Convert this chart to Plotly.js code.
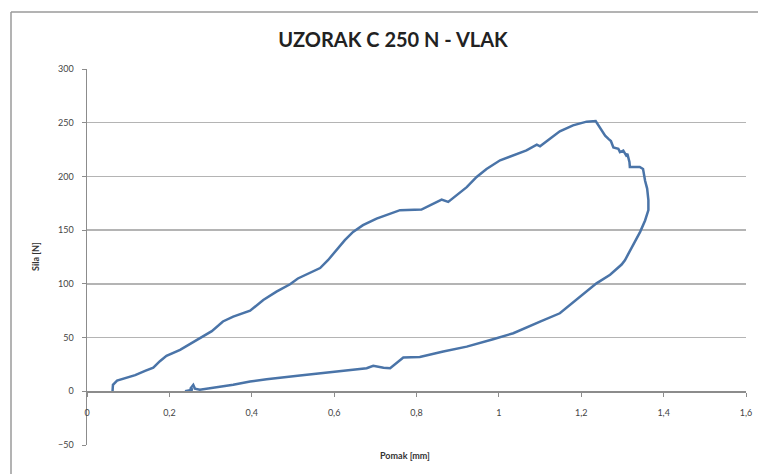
<!DOCTYPE html>
<html>
<head>
<meta charset="utf-8">
<script src="https://cdn.plot.ly/plotly-3.0.1.min.js"></script>
<style>
  html, body { margin: 0; padding: 0; background: #fff; overflow: hidden; }
  #chart { width: 758px; height: 474px; }
</style>
</head>
<body>
<div id="chart"></div>
<script>
// Pomak [mm] vs Sila [N]
const pomak = [
  0.062, 0.063, 0.073, 0.097, 0.117, 0.141, 0.161, 0.177, 0.193, 0.226,
  0.250, 0.274, 0.303, 0.330, 0.355, 0.396, 0.428, 0.460, 0.493, 0.512,
  0.541, 0.566, 0.585, 0.606, 0.626, 0.646, 0.670, 0.703, 0.736, 0.760,
  0.812, 0.840, 0.861, 0.877, 0.897, 0.922, 0.946, 0.970, 1.003, 1.035,
  1.067, 1.092, 1.100, 1.124, 1.148, 1.180, 1.213, 1.235, 1.250, 1.258,
  1.266, 1.272, 1.278, 1.290, 1.294, 1.302, 1.309, 1.312, 1.317, 1.318,
  1.342, 1.350, 1.355, 1.360, 1.363, 1.363, 1.355, 1.343, 1.330, 1.318,
  1.306, 1.298, 1.270, 1.237, 1.197, 1.148, 1.100, 1.035, 0.986, 0.922,
  0.865, 0.808, 0.768, 0.752, 0.736, 0.720, 0.695, 0.679, 0.598, 0.517,
  0.436, 0.396, 0.355, 0.315, 0.274, 0.262, 0.258, 0.252, 0.256, 0.238
];
const sila = [
  0, 6, 10, 12.5, 15, 19, 22, 28, 33, 38.5,
  44, 49.7, 56, 65, 69.5, 75, 85, 92.8, 99.6, 105,
  110, 114.7, 122, 131.4, 140.7, 148.4, 154.6, 160.8, 165.5, 168.6,
  169.2, 174.8, 178.5, 176.3, 182.5, 190, 199.5, 207, 215, 219.7,
  224.3, 229.6, 228, 235, 242, 247.5, 251, 251.5, 242, 238,
  235, 233, 227, 225.8, 222.7, 224, 219.6, 221, 213.5, 208.8,
  208.8, 207, 196, 188.7, 178, 168.6, 159, 148.4, 139, 130,
  122, 118, 108.5, 100.5, 88, 72.6, 64.8, 54, 48.5, 41.6,
  37, 32, 31.4, 26, 21.5, 22, 23.7, 21.5, 17.8, 14.7,
  11.3, 9.1, 6, 3.9, 1.4, 2.5, 6, 3, 1.5, 0
];

const xTicks = [0, 0.2, 0.4, 0.6, 0.8, 1, 1.2, 1.4, 1.6];
const yTicks = [-50, 0, 50, 100, 150, 200, 250, 300];

const font = "Lato, 'Open Sans', sans-serif";
const gray = "#8c8c8c";

const trace = {
  x: pomak,
  y: sila,
  mode: "lines",
  type: "scatter",
  line: { color: "#4a74a8", width: 2.5 },
  hoverinfo: "skip"
};

// paper coords of the chart frame (top and left edges only show in the picture)
const frameLeft = (11 - 87) / 659;
const frameRight = (758 - 87) / 659;
const frameTop = (445 - 12) / 376;
const frameBottom = (445 - 474) / 376;

const layout = {
  width: 758,
  height: 474,
  margin: { l: 87, r: 12, t: 69, b: 29 },
  paper_bgcolor: "#fff",
  plot_bgcolor: "#fff",
  showlegend: false,
  separators: ",.",
  font: { family: font, size: 9, color: "#444" },
  title: {
    text: "<b>UZORAK C 250 N - VLAK</b>",
    font: { family: font, size: 20, color: "#222" },
    xref: "container", yref: "container",
    x: 393 / 758, y: 1 - 40 / 474,
    xanchor: "center", yanchor: "middle"
  },
  xaxis: {
    range: [0, 1.6],
    tickvals: xTicks,
    showgrid: false,
    zeroline: false,
    showline: true,
    linecolor: gray,
    linewidth: 1.5,
    ticks: "outside",
    ticklen: 4,
    tickcolor: gray,
    ticklabelstandoff: 8,
    anchor: "free",
    position: 50 / 350
  },
  yaxis: {
    range: [-50, 300],
    tickvals: yTicks,
    showgrid: true,
    gridcolor: "#b4b4b4",
    gridwidth: 1.5,
    zeroline: false,
    showline: true,
    linecolor: gray,
    linewidth: 1.5,
    ticks: "outside",
    ticklen: 4,
    tickcolor: gray,
    ticklabelstandoff: 6
  },
  annotations: [
    {
      text: "<b>Pomak [mm]</b>",
      xref: "paper", yref: "paper",
      x: (405 - 87) / 659, y: (445 - 455) / 376,
      xanchor: "center", yanchor: "middle",
      showarrow: false,
      font: { family: font, size: 9, color: "#333" }
    },
    {
      text: "<b>Sila [N]</b>",
      xref: "paper", yref: "paper",
      x: (35 - 87) / 659, y: 0.5,
      xanchor: "center", yanchor: "middle",
      textangle: -90,
      showarrow: false,
      font: { family: font, size: 9, color: "#333" }
    }
  ],
  shapes: [
    {
      type: "line", xref: "paper", yref: "paper",
      x0: frameLeft, x1: frameRight, y0: frameTop, y1: frameTop,
      line: { color: "#9a9a9a", width: 1.5 }, layer: "below"
    },
    {
      type: "line", xref: "paper", yref: "paper",
      x0: frameLeft, x1: frameLeft, y0: frameTop, y1: frameBottom,
      line: { color: "#9a9a9a", width: 1.5 }, layer: "below"
    }
  ]
};

Plotly.newPlot("chart", [trace], layout, { staticPlot: true, displayModeBar: false });
</script>
</body>
</html>
